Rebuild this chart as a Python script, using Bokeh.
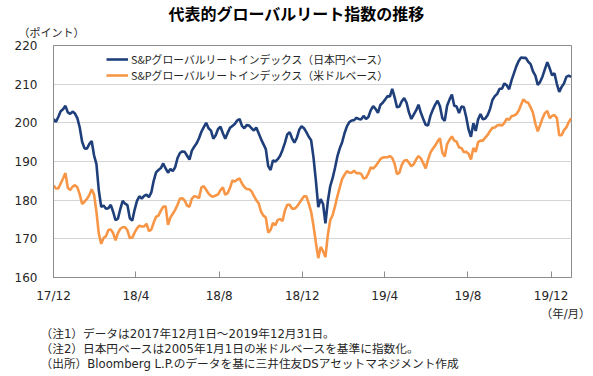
import pandas as pd
from bokeh.plotting import figure
from bokeh.models import (Range1d, FixedTicker, Legend, LegendItem, Title,
                          ColumnDataSource)
from bokeh.embed import file_html
from bokeh.resources import INLINE

TITLE = "代表的グローバルリート指数の推移"
Y_UNIT = "（ポイント）"
X_UNIT = "（年/月）"
SERIES_NAMES = ["S&Pグローバルリートインデックス（日本円ベース）",
                "S&Pグローバルリートインデックス（米ドルベース）"]
NOTES = ["（注1）データは2017年12月1日～2019年12月31日。",
         "（注2）日本円ベースは2005年1月1日の米ドルベースを基準に指数化。",
         "（出所）Bloomberg L.P.のデータを基に三井住友DSアセットマネジメント作成"]

START = "2017-12-01"
END = "2019-12-31"
STEP = "84h"  # twice a week

# readings (points), twice a week from 2017-12-01
JPY = [201, 200.2, 201.5, 203, 203.5, 204.4, 202.7, 202.3, 202.9, 202.4,
       201.2, 198.8, 195.1, 193.4, 193.3, 194.5, 195.3, 191.6, 189.3, 182.5,
       178.3, 178.6, 177.8, 177.9, 178.8, 177, 174.8, 175.2, 177.7, 179.8,
       179.1, 178.7, 175.3, 174.7, 177.5, 179.8, 181, 180.4, 181.1, 181.4,
       180.8, 182, 185, 187.2, 187.8, 188.3, 189.5, 188.2, 187.1, 188.1,
       187.5, 188.5, 190.9, 192.2, 192.6, 192.5, 191.5, 190.5, 192.8, 193.8,
       194.7, 196, 197.7, 198.9, 200, 198.6, 198, 195.9, 196.8, 198.4,
       199, 197.3, 195.9, 197.4, 198.7, 199.2, 199.7, 200.6, 201, 199.2,
       198.6, 199.4, 199.3, 198.6, 198, 198.8, 197.3, 195.8, 194.5, 193.2,
       188.8, 187.8, 190.3, 190, 190.6, 191.5, 193, 194.8, 197, 197.6,
       196, 194.9, 196.1, 198.2, 199.1, 198.6, 197.6, 196.4, 195.5, 191,
       185, 178.2, 180.3, 179, 174, 179.7, 183.6, 185.7, 188.3, 191.3,
       193.4, 195, 197.3, 199.1, 200.2, 200.6, 200.7, 201.3, 201, 200.9,
       201.8, 201, 201.5, 203.3, 204.3, 203.6, 202.6, 204.6, 205.2, 206,
       206.9, 206.8, 208.8, 206.6, 204, 204.2, 205.6, 206.4, 205.2, 202.7,
       201, 202.1, 203.2, 204.7, 202.6, 201, 199.5, 199.3, 201.8, 203.4,
       204.7, 205.7, 204.3, 201.2, 200.5, 204.4, 206, 207.3, 204.4, 204.2,
       202.5, 204.2, 204.1, 201.5, 198.3, 196.4, 199.9, 197.9, 200.9, 202.3,
       200.9, 201.1, 202, 203.6, 205.9, 206.9, 207.5, 208.8, 208.8, 210.2,
       209.7, 208.7, 211, 212.8, 214.6, 216, 216.9, 216.8, 216.8, 215.8,
       215.2, 213.3, 212.2, 209.8, 210.6, 212, 213.9, 215.7, 214.1, 212.3,
       212.8, 210.1, 208, 209.3, 210.2, 211.9, 212.2, 211.9]
USD = [183.8, 183, 183, 184.3, 185.6, 187, 183.2, 182.6, 183.5, 183.9,
       183.3, 181.5, 179, 179.6, 180.3, 181.3, 182.8, 181.5, 177, 171.3,
       168.7, 170.2, 170.7, 172.3, 172.4, 171.5, 169.6, 171.5, 172.6, 173,
       173, 172.2, 170.2, 170.3, 171.6, 172.7, 173.4, 173.2, 173.2, 173.9,
       172, 172.4, 174.2, 175.7, 176, 177.3, 178.3, 178.4, 173.6, 175.5,
       176.5, 177.5, 178.8, 180.4, 180.5, 179.9, 178.6, 178.3, 180.4, 181,
       180.9, 180.5, 183.3, 183.6, 182.7, 181.7, 181.1, 180.9, 181.2, 181.5,
       182.6, 183.3, 181.4, 181.8, 183.2, 185.1, 184.8, 185.3, 185.6, 184.3,
       183.4, 182.9, 182.8, 182.3, 181.1, 180, 179.2, 177, 176, 175.5,
       171.6, 172.3, 174.1, 173.5, 174.9, 175.1, 174.6, 177.3, 178.8, 178.8,
       177.8, 177.8, 178.3, 179.2, 180.1, 181, 181, 179.1, 177, 173.3,
       169, 165, 167.9, 166.8, 165.3, 171, 174.8, 176.1, 178.4, 181,
       183.3, 185.5, 186.6, 187.5, 187.1, 187.1, 187.6, 187, 187, 186.8,
       185.6, 185.8, 186.9, 188.5, 188.2, 188.8, 189.7, 190.6, 191, 191.1,
       191.1, 191.4, 190.9, 189.4, 186.7, 187.1, 189.1, 190.2, 190.4, 189.7,
       188.8, 189.3, 190.5, 191.4, 190.8, 189.6, 188.2, 190.4, 192.3, 193.3,
       194.1, 195.2, 196, 192.3, 191.3, 194.5, 195.6, 196.5, 195.4, 195.1,
       193.6, 193.5, 192.4, 192.5, 192, 190.5, 193.5, 192.5, 195, 195.4,
       195.4, 196.2, 196.9, 197.9, 198.7, 198.8, 199.3, 199.5, 199.3, 200,
       201.1, 200.8, 201.7, 201.9, 202.2, 203.1, 204.7, 206.1, 205.4, 205.2,
       204, 202.6, 199.8, 197.8, 199.4, 201.2, 202.5, 203.1, 201.2, 201.8,
       202, 201.3, 196.8, 196.8, 198.1, 198.8, 200.2, 201.2]

TICK_DATES = ["2017-12-01", "2018-04-01", "2018-08-01", "2018-12-01",
              "2019-04-01", "2019-08-01", "2019-12-01"]
TICK_LABELS = ["17/12", "18/4", "18/8", "18/12", "19/4", "19/8", "19/12"]
Y_TICKS = [160, 170, 180, 190, 200, 210, 220]

BLUE = "#1F3F7A"
ORANGE = "#F79646"
FONT = "Noto Sans CJK JP"
TIGHT = "DejaVu Sans, Noto Sans CJK JP"
TEXT = "#262626"

dates = pd.date_range(START, periods=len(JPY), freq=STEP)
src = ColumnDataSource(dict(date=dates, jpy=JPY, usd=USD))


def ms(d):
    return float(pd.Timestamp(d).value // 10**6)


p = figure(width=593, height=376, x_axis_type="datetime",
           output_backend="svg", toolbar_location=None,
           min_border_left=53, min_border_right=22,
           min_border_top=45, min_border_bottom=99,
           x_range=Range1d(pd.Timestamp(START), pd.Timestamp(END)),
           y_range=Range1d(160, 220))
p.background_fill_color = "white"
p.border_fill_color = "white"
p.outline_line_color = "#8C8C8C"
p.outline_line_width = 1

r1 = p.line("date", "jpy", source=src, color=BLUE, line_width=2.6)
r2 = p.line("date", "usd", source=src, color=ORANGE, line_width=2.6)

# axes
xa = p.xaxis[0]
xa.ticker = FixedTicker(ticks=[ms(d) for d in TICK_DATES])
xa.major_label_overrides = {ms(d): l for d, l in zip(TICK_DATES, TICK_LABELS)}
xa.major_tick_in = 6
xa.major_tick_out = 0
xa.minor_tick_line_color = None
xa.axis_line_color = "#8C8C8C"
xa.major_tick_line_color = "#8C8C8C"
xa.major_label_standoff = 11
xa.major_label_text_font = TIGHT
xa.major_label_text_font_size = "12px"
xa.major_label_text_color = TEXT

ya = p.yaxis[0]
ya.ticker = FixedTicker(ticks=Y_TICKS)
ya.major_tick_in = 0
ya.major_tick_out = 0
ya.minor_tick_line_color = None
ya.axis_line_color = "#8C8C8C"
ya.major_label_standoff = 16
ya.major_label_text_font = TIGHT
ya.major_label_text_font_size = "12px"
ya.major_label_text_color = TEXT

p.xgrid.grid_line_color = None
p.ygrid.ticker = FixedTicker(ticks=Y_TICKS)
p.ygrid.grid_line_color = "#D4D4D4"
p.ygrid.grid_line_width = 1

legend = Legend(items=[LegendItem(label=SERIES_NAMES[0], renderers=[r1]),
                       LegendItem(label=SERIES_NAMES[1], renderers=[r2])],
                location=(53, 194), orientation="vertical",
                glyph_width=22, glyph_height=16, label_height=16,
                label_standoff=3, spacing=-3, padding=0, margin=0,
                border_line_color=None, background_fill_alpha=0,
                label_text_font=FONT, label_text_font_size="10.8px",
                label_text_color=TEXT)
p.add_layout(legend)


def add_title(text, side, size, align="left", offset=0, bold=False,
              standoff=0, valign="middle", line_height=1.0):
    t = Title(text=text, align=align, offset=offset, standoff=standoff,
              text_font=TIGHT, text_font_size=size,
              text_font_style="bold" if bold else "normal",
              text_color="#000000" if bold else TEXT,
              vertical_align=valign, text_line_height=line_height)
    p.add_layout(t, side)


add_title(Y_UNIT, "above", "11px", "left", -35, standoff=7, valign="top")
add_title(TITLE, "above", "16px", "left", 115, bold=True, valign="bottom")
add_title(X_UNIT, "below", "11.5px", "right", -19)
add_title("\n".join(NOTES), "below", "11.7px", "left", -13, standoff=6,
          valign="bottom", line_height=1.1)

open("out.html", "w").write(file_html(p, INLINE))
